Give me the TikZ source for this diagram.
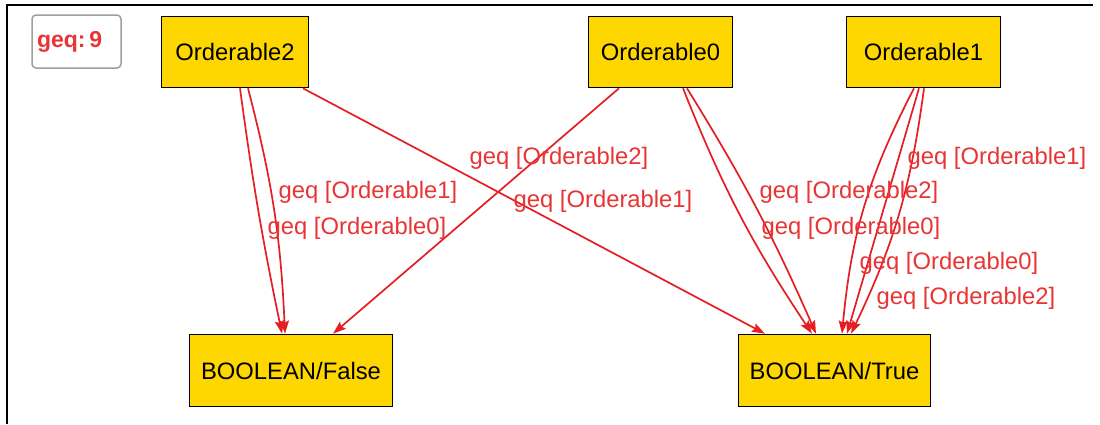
\documentclass[tikz,border=0pt]{standalone}
\usepackage{fontspec}
\setmainfont{Liberation Sans}
\usetikzlibrary{arrows.meta}
\definecolor{edgered}{RGB}{229,30,36}
\definecolor{labelred}{RGB}{232,52,52}
\definecolor{nodegold}{RGB}{255,215,0}
\begin{document}
\begin{tikzpicture}[x=1pt,y=1pt,
  box/.style={draw=black, line width=1.6pt, fill=nodegold, minimum height=71,
    inner sep=0pt, font=\fontsize{23.8}{28}\selectfont},
  conn/.style={draw=edgered, line width=1.7pt,
    -{Stealth[length=13pt,width=9pt,inset=2pt]}},
  lab/.style={text=labelred, font=\fontsize{23.8}{28}\selectfont, inner sep=0pt}]
\useasboundingbox (0,0) rectangle (1100,-424);
\fill[white] (0,0) rectangle (1100,-424);
% frame on the left and top
\draw[line width=2.5pt] (7,-424) -- (7,-5) -- (1093,-5);

% legend
\node[draw=gray!75, line width=1.5pt, rounded corners=4pt, fill=white,
  minimum width=89, minimum height=53, inner xsep=5pt, inner ysep=0pt,
  text width=79, align=left, font=\fontsize{23}{28}\selectfont\bfseries,
  text=labelred] (lg) at (76.5,-41.5) {geq:\,9};

% nodes
\node[box, minimum width=147] (o2) at (235,-52) {Orderable2};
\node[box, minimum width=144] (o0) at (660.5,-52) {Orderable0};
\node[box, minimum width=154] (o1) at (923.5,-52) {Orderable1};
\node[box, minimum width=203, minimum height=72] (bf) at (291,-370.5) {BOOLEAN/False};
\node[box, minimum width=192, minimum height=72] (bt) at (834.5,-370.5) {BOOLEAN/True};

% connectors
\draw[conn] ([xshift=5]o2.south) to[bend right=2] ([xshift=-9]bf.north);
\draw[conn] ([xshift=13]o2.south) to[bend left=6] ([xshift=-6]bf.north);
\draw[conn] ([xshift=68]o2.south) -- ([xshift=-69.5]bt.north);
\draw[conn] ([xshift=-41.5]o0.south) -- ([xshift=42]bf.north);
\draw[conn] ([xshift=22.5]o0.south) to[bend right=6] ([xshift=-22.5]bt.north);
\draw[conn] ([xshift=26.5]o0.south) to[bend left=4] ([xshift=-18.5]bt.north);
\draw[conn] ([xshift=-9.5]o1.south) to[bend right=11] ([xshift=7.5]bt.north);
\draw[conn] ([xshift=-4.5]o1.south) -- ([xshift=12.5]bt.north);
\draw[conn] ([xshift=0.5]o1.south) to[bend left=9] ([xshift=16.5]bt.north);

% connector labels
\node[lab] (l1) at (368,-192) {geq [Orderable1]};
\node[lab] (l2) at (357,-228) {geq [Orderable0]};
\node[lab] (l3) at (559,-158) {geq [Orderable2]};
\node[lab] (l4) at (603,-201) {geq [Orderable1]};
\node[lab] (l5) at (849,-192) {geq [Orderable2]};
\node[lab] (l6) at (851,-228) {geq [Orderable0]};
\node[lab] (l7) at (997,-158) {geq [Orderable1]};
\node[lab] (l8) at (949,-263) {geq [Orderable0]};
\node[lab] (l9) at (966,-298) {geq [Orderable2]};
\end{tikzpicture}
\end{document}
